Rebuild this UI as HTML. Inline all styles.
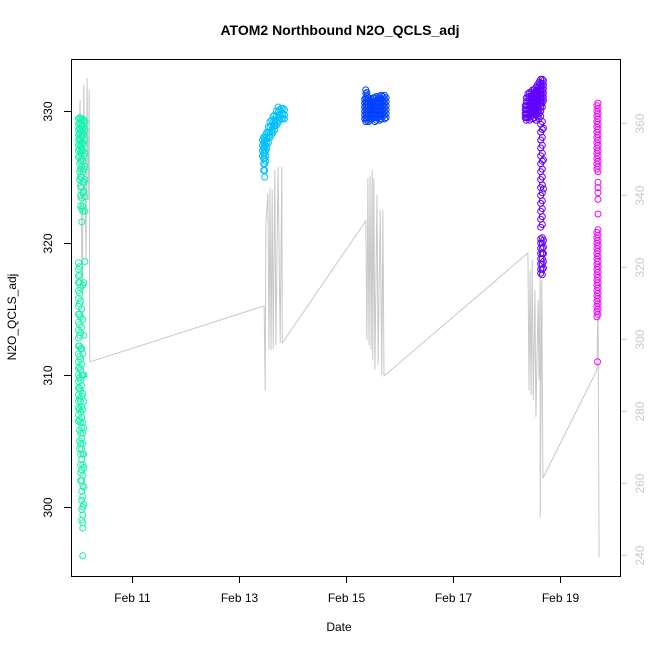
<!DOCTYPE html>
<html><head><meta charset="utf-8"><style>
body{margin:0;background:#fff;}
svg{display:block;font-family:"Liberation Sans",sans-serif;}
</style></head><body>
<svg id="chart" width="650" height="650" viewBox="0 0 650 650" xmlns="http://www.w3.org/2000/svg">
<rect width="650" height="650" fill="#fff"/>
<text x="340" y="35" text-anchor="middle" font-size="14" font-weight="bold">ATOM2 Northbound N2O_QCLS_adj</text>
<text x="339" y="631" text-anchor="middle" font-size="12">Date</text>
<text transform="translate(16,317) rotate(-90)" text-anchor="middle" font-size="12">N2O_QCLS_adj</text>
<g id="gline"></g>
<g id="pts"></g>
<g id="axes"></g>
<rect x="71.5" y="59.5" width="549" height="517" fill="none" stroke="#000" stroke-width="1"/>
</svg>
<script>
const xTicks=[11,13,15,17,19];
const xTickLabels=["Feb 11","Feb 13","Feb 15","Feb 17","Feb 19"];
const yTicks=[300,310,320,330];
const y2Ticks=[240,260,280,300,320,340,360];
const flightColors=["#14F5B0","#00BFFF","#0040FF","#6000FF","#EE00FF"];
// each entry: [day, [N2O values observed near that time]]
const flight1=[
[10.00,[329.4,329.0,328.6,328.2,327.8,327.4,327.0,326.5,318.5,318.0,317.5,317.0,316.4,315.8,315.2,314.6,314.0,313.4,312.8,312.2,311.6,311.0,310.5,310.0,309.5,309.0,308.5,308.0,307.5,307.0,306.5]],
[10.02,[329.5,329.1,328.7,328.3,327.9,327.5,327.1,326.6,326.0,325.4,324.8,318.2,317.6,317.0,316.2,315.4,314.6,313.8,313.0,312.2,311.4,310.6,309.8,309.0,308.2,307.4,306.6,305.8,305.0,304.4]],
[10.04,[329.4,329.0,328.6,328.2,327.8,327.3,326.8,326.2,325.6,325.0,324.3,323.6,322.8,316.6,315.6,314.4,313.2,312.0,311.2,310.4,309.6,308.8,308.0,307.2,306.4,305.6,304.8,304.0,303.2,302.6,302.0]],
[10.06,[329.3,328.9,328.5,328.1,327.6,327.0,326.4,325.8,325.0,324.2,323.4,322.6,321.6,315.0,313.6,312.0,310.8,310.0,309.2,308.4,307.6,306.8,306.0,305.2,304.4,303.6,302.8,302.0,301.2,300.5,299.8,299.0]],
[10.08,[329.4,329.0,328.6,328.2,327.6,327.0,326.2,325.4,324.6,323.8,322.8,322.4,316.8,314.2,311.6,310.0,308.6,307.4,306.4,305.6,304.8,304.0,303.2,302.4,301.6,300.8,300.0,299.4,298.8,298.4]],
[10.10,[329.3,328.8,328.2,327.5,326.6,325.6,324.6,323.9,317.0,313.0,310.0,308.0,306.0,304.0,303.0,301.5,300.2]],
[10.12,[329.2,328.6,327.8,326.8,325.8,324.8,323.5,322.4,318.6]],
[10.08,[296.3]]];
const flight2=[
[13.44,[327.8,327.4,327.0,326.6]],
[13.46,[328.0,327.6,327.2,326.8,326.4,326.0,325.5]],
[13.48,[328.0,327.6,327.2,326.8,326.4,326.0,325.5,325.0]],
[13.50,[328.2,327.8,327.4,327.0,326.6,326.2]],
[13.52,[328.4,328.0,327.6,327.2]],
[13.55,[328.8,328.4,328.0,327.6]],
[13.58,[329.2,328.8,328.4,328.0]],
[13.61,[329.3,328.9,328.5,328.2]],
[13.64,[329.6,329.2,328.8,328.4]],
[13.67,[329.7,329.3,328.9,328.6]],
[13.70,[330.0,329.6,329.2,328.9]],
[13.73,[330.3,329.9,329.5,329.1]],
[13.76,[330.1,329.7,329.3]],
[13.79,[330.2,329.8,329.4]],
[13.82,[330.2,329.8,329.4]],
[13.85,[330.1,329.7,329.4]]];
const flight3=[
[15.35,[330.9,330.6,330.3,330.0,329.7,329.4]],
[15.37,[331.6,331.3,331.0,330.7,330.4,330.1,329.8,329.5,329.2]],
[15.39,[331.4,331.1,330.8,330.5,330.2,329.9,329.6,329.3]],
[15.42,[331.0,330.7,330.4,330.1,329.8,329.5,329.2]],
[15.45,[330.8,330.5,330.2,329.9,329.6,329.3]],
[15.48,[330.9,330.6,330.3,330.0,329.7,329.4]],
[15.51,[331.0,330.7,330.4,330.1,329.8,329.5]],
[15.54,[331.0,330.7,330.4,330.1,329.8,329.5,329.2]],
[15.57,[331.1,330.8,330.5,330.2,329.9,329.6,329.3]],
[15.60,[331.0,330.7,330.4,330.1,329.8,329.5]],
[15.63,[331.1,330.8,330.5,330.2,329.9,329.6,329.3]],
[15.66,[331.2,330.9,330.6,330.3,330.0,329.7,329.4]],
[15.69,[331.1,330.8,330.5,330.2,329.9,329.6]],
[15.72,[331.2,330.9,330.6,330.3,330.0,329.7,329.4]],
[15.75,[331.0,330.7,330.4,330.1,329.8,329.5]]];
const flight4=[
[18.35,[330.4,330.1,329.8,329.5]],
[18.37,[331.0,330.7,330.4,330.1,329.8,329.5,329.3]],
[18.40,[331.3,331.0,330.7,330.4,330.1,329.8,329.5]],
[18.43,[331.4,331.1,330.8,330.5,330.2,329.9,329.6,329.3]],
[18.46,[331.4,331.1,330.8,330.5,330.2,329.9,329.6]],
[18.49,[331.6,331.3,331.0,330.7,330.4,330.1,329.8,329.4]],
[18.52,[331.6,331.3,331.0,330.7,330.4,330.1,329.8,329.5]],
[18.55,[331.8,331.5,331.2,330.9,330.6,330.3,330.0,329.7,329.3]],
[18.58,[332.0,331.7,331.4,331.1,330.8,330.5,330.2,329.9,329.6]],
[18.61,[332.2,331.9,331.6,331.3,331.0,330.7,330.4,330.1,329.8,329.4]],
[18.64,[332.4,332.1,331.8,331.5,331.2,330.9,330.6,330.3,330.0,329.6,329.0,328.4,327.8,327.2,326.6,326.0,325.4,324.8,324.2,323.6,323.0,322.4,321.8,321.2,320.3,320.0,319.6,319.2,318.8,318.4,318.0,317.7]],
[18.67,[332.4,332.1,331.8,331.5,331.2,330.9,330.6,330.3,329.2,328.6,328.0,327.4,326.8,326.2,325.6,325.0,324.4,323.8,323.2,322.6,322.0,321.4,320.4,320.0,319.6,319.2,318.8,318.4,318.0,317.6]],
[18.69,[332.3,332.0,331.7,331.4,331.1,330.8,328.7,326.3,324.1,320.2,319.7,319.2,318.6,318.1]]];
const flight5=[
[19.69,[330.4,330.0,329.6,329.2,328.8,328.4,328.0,327.6,327.2,326.8,326.4,326.0,325.6,320.8,320.4,320.0,319.6,319.2,318.8,318.4,318.0,317.6,317.2,316.8,316.4,316.0,315.6,315.2,314.8,314.4]],
[19.71,[330.6,330.2,329.8,329.4,329.0,328.6,328.2,327.8,327.4,327.0,326.6,326.2,325.8,325.4,324.6,324.2,323.8,323.3,322.2,321.0,320.6,320.2,319.8,319.4,319.0,318.6,318.2,317.8,317.4,317.0,316.6,316.2,315.8,315.4,315.0,314.6]],
[19.70,[311.0]]];
const flights=[flight1,flight2,flight3,flight4,flight5];
const grayDays=[9.99,10.03,10.07,10.10,10.14,10.16,10.18,10.20,10.21,13.47,13.49,13.50,13.54,13.56,13.58,13.60,13.62,13.64,13.67,13.69,13.73,13.77,13.80,13.81,15.37,15.39,15.41,15.43,15.45,15.47,15.49,15.50,15.52,15.54,15.58,15.60,15.64,15.67,15.69,15.71,18.40,18.42,18.44,18.46,18.48,18.50,18.53,18.55,18.59,18.61,18.63,18.63,18.66,18.68,19.69,19.71,19.73];
const grayVals=[338.6,366.4,310.8,370.6,321.9,372.5,338.6,369.2,293.6,309.2,285.6,331.4,340.6,297,342,297,341.4,297.2,347,298.3,347.8,298.9,347.8,298.9,332.8,299.7,344.7,298.3,345.3,297,347,294.2,344.7,291.4,340,292.8,335.8,290,335.8,289.7,323.9,285.8,319.2,284.4,322,283,313.6,278.3,310.8,288.6,319.2,250.3,316.4,261.4,291.4,311.7,239.4];

const NS="http://www.w3.org/2000/svg";
const xs=d=>132+(d-11)*53.5;
const ys=v=>111+(330-v)*13.2;
const ys2=v=>123+(360-v)*3.6;
function mk(tag,attrs,parent){const e=document.createElementNS(NS,tag);for(const k in attrs)e.setAttribute(k,attrs[k]);parent.appendChild(e);return e;}

const gl=document.getElementById('gline');
const poly=mk('polyline',{points:grayDays.map((d,i)=>xs(d).toFixed(1)+','+ys2(grayVals[i]).toFixed(1)).join(' '),fill:'none',stroke:'#c8c8c8','stroke-width':1},gl);



const pg=document.getElementById('pts');
flights.forEach((f,fi)=>{
  const g=mk('g',{},pg);
  
  
  f.forEach(col=>{
    col[1].forEach(v=>{
      const c=mk('circle',{cx:xs(col[0]).toFixed(1),cy:ys(v).toFixed(1),r:3,fill:'none',stroke:flightColors[fi],'stroke-width':1},g);
      
      
    });
  });
});

const ax=document.getElementById('axes');
xTicks.forEach((t,i)=>{
  const x=Math.round(xs(t))+0.5;
  const l=mk('line',{x1:x,x2:x,y1:576,y2:583,stroke:'#000'},ax);
  
  
  const tx=mk('text',{x:x,y:602,'text-anchor':'middle','font-size':12},ax);
  tx.textContent=xTickLabels[i];
  
  
});
yTicks.forEach(t=>{
  const y=Math.round(ys(t))+0.5;
  const l=mk('line',{x1:64,x2:71,y1:y,y2:y,stroke:'#000'},ax);
  
  
  const tx=mk('text',{transform:`translate(52,${y}) rotate(-90)`,'text-anchor':'middle','font-size':12},ax);
  tx.textContent=t;
  
  
});
y2Ticks.forEach(t=>{
  const y=Math.round(ys2(t))+0.5;
  const l=mk('line',{x1:620,x2:627,y1:y,y2:y,stroke:'#c8c8c8'},ax);
  
  
  const tx=mk('text',{transform:`translate(644,${y}) rotate(-90)`,'text-anchor':'middle','font-size':12,fill:'#c8c8c8'},ax);
  tx.textContent=t;
  
  
});
const raxis=mk('line',{x1:620.5,x2:620.5,y1:ys2(360),y2:ys2(240),stroke:'#c8c8c8'},ax);


</script>
</body></html>
